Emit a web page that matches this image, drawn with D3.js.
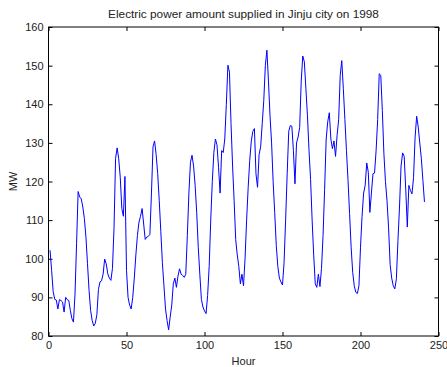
<!DOCTYPE html>
<html>
<head>
<meta charset="utf-8">
<script src="https://cdn.jsdelivr.net/npm/d3@7"></script>
<style>
  body { margin: 0; background: #fff; }
  svg text { font-family: "Liberation Sans", Arial, sans-serif; fill: #222; }
</style>
</head>
<body>
<svg id="chart"></svg>
<script>
// Potencia horaria (MW), horas 1..241
const power = [
    102.2, 97, 91.5, 89.5, 89.3, 87, 89.4, 89.2, 88.8, 86.2,
    90, 89.4, 89.2, 86.6, 84.5, 83.6, 90.9, 104, 117.4, 116,
    115.5, 113.4, 110.4, 105.6, 98.7, 91.8, 86.6, 84, 82.6, 83.3,
    85.5, 92, 94, 94.3, 96, 99.9, 98.7, 96.1, 95, 94.4,
    97.5, 108, 126, 128.7, 125.9, 121.1, 113, 111, 121.3, 97,
    90, 88, 87, 90, 95, 101, 106, 109.5, 111, 113,
    109, 105, 105.6, 105.8, 106.3, 117, 129, 130.5, 127, 122,
    115, 107, 99, 93, 87, 84, 81.6, 84.9, 88, 93.5,
    95, 92.6, 95.5, 97.4, 96, 95.7, 95.2, 96, 106, 117,
    125, 126.8, 124, 119, 112, 103, 96, 89.5, 87.5, 86.5,
    85.8, 90.5, 98, 110, 120, 127.5, 131, 129.5, 123.7, 117,
    128, 127.5, 131, 140, 150.1, 148.3, 135, 124, 115, 105,
    101, 98, 93.5, 96, 93, 100, 110, 118.5, 125.5, 130.5,
    133, 133.7, 122, 118.5, 127, 129, 135, 141, 150, 154,
    146, 137, 130, 120, 112, 103.5, 98, 95, 94, 93.2,
    99, 110, 122, 133, 134.5, 134.3, 128, 119.4, 130, 131.5,
    134, 146, 152.5, 151, 144, 137, 128, 120.5, 110, 101,
    93.5, 92.6, 96, 92.8, 97.5, 106, 118, 131, 135.5, 137.8,
    131, 128.5, 130.5, 126.5, 132, 136, 147.5, 151.3, 144, 136,
    128, 120.3, 111.7, 103, 96.5, 93, 91.3, 91, 93, 103,
    111, 117, 119, 124.8, 122.4, 112, 117, 122, 122.2, 128,
    136, 147.9, 147.5, 138.4, 127.2, 120, 115, 108, 98.5, 95,
    93, 92.2, 94.8, 104.7, 113.4, 124, 127.4, 126.5, 118, 108.2,
    119, 117.7, 116.8, 121, 131.5, 136.9, 134.1, 130, 126, 120.3,
    114.7
];
const hours = power.map((d, i) => i + 1);

const xTicks = [0, 50, 100, 150, 200, 250];
const yTicks = [80, 90, 100, 110, 120, 130, 140, 150, 160];

const titleText = "Electric power amount supplied in Jinju city on 1998";
const xLabel = "Hour";
const yLabel = "MW";

const width = 447;
const height = 367;
const plotLeft = 48.5, plotRight = 438.5, plotTop = 27, plotBottom = 336;

const svg = d3.select("#chart")
    .attr("width", width)
    .attr("height", height);

const x = d3.scaleLinear().domain([0, 250]).range([plotLeft, plotRight]);
const y = d3.scaleLinear().domain([80, 160]).range([plotBottom, plotTop]);

// Ejes con marcas hacia dentro (estilo MATLAB)
svg.append("g")
    .attr("transform", `translate(0,${plotBottom})`)
    .call(d3.axisBottom(x).tickValues(xTicks).tickSizeInner(-4).tickSizeOuter(0).tickPadding(5));

svg.append("g")
    .attr("transform", `translate(0,${plotTop})`)
    .call(d3.axisTop(x).tickValues(xTicks).tickSizeInner(-4).tickSizeOuter(0).tickFormat(""));

svg.append("g")
    .attr("transform", `translate(${plotLeft},0)`)
    .call(d3.axisLeft(y).tickValues(yTicks).tickSizeInner(-4).tickSizeOuter(0).tickPadding(5));

svg.append("g")
    .attr("transform", `translate(${plotRight},0)`)
    .call(d3.axisRight(y).tickValues(yTicks).tickSizeInner(-4).tickSizeOuter(0).tickFormat(""));

svg.selectAll(".domain").remove();
svg.selectAll(".tick line").attr("stroke", "#000");
svg.selectAll(".tick text").attr("font-size", 11).style("font-family", "Liberation Sans, Arial, sans-serif");

// Caja
svg.append("rect")
    .attr("x", plotLeft)
    .attr("y", plotTop)
    .attr("width", plotRight - plotLeft)
    .attr("height", plotBottom - plotTop)
    .attr("fill", "none")
    .attr("stroke", "#000")
    .attr("stroke-width", 1);

// Serie
const line = d3.line()
    .x((d, i) => x(hours[i]))
    .y(d => y(d));

svg.append("path")
    .datum(power)
    .attr("d", line)
    .attr("fill", "none")
    .attr("stroke", "#0000ff")
    .attr("stroke-width", 1);

// Textos
svg.append("text")
    .attr("x", (plotLeft + plotRight) / 2)
    .attr("y", 18)
    .attr("text-anchor", "middle")
    .attr("font-size", 11.8)
    .text(titleText);

svg.append("text")
    .attr("x", (plotLeft + plotRight) / 2)
    .attr("y", 365)
    .attr("text-anchor", "middle")
    .attr("font-size", 11)
    .text(xLabel);

svg.append("text")
    .attr("transform", `translate(17,${(plotTop + plotBottom) / 2}) rotate(-90)`)
    .attr("text-anchor", "middle")
    .attr("font-size", 11)
    .text(yLabel);
</script>
</body>
</html>
